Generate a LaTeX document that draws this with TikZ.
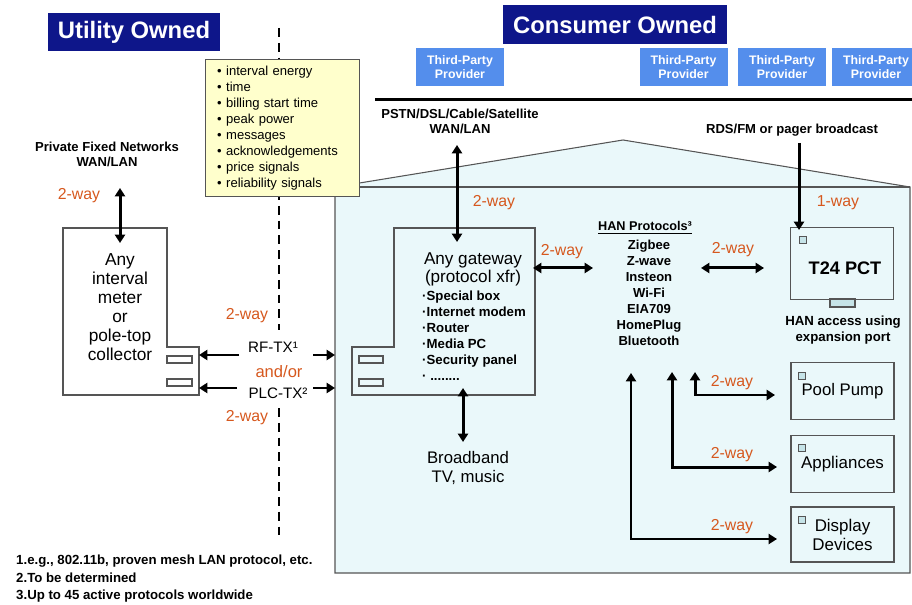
\documentclass[tikz,border=0pt]{standalone}
\usepackage{fontspec}
\setmainfont{Liberation Sans}
\usetikzlibrary{arrows.meta}

\definecolor{ownerblue}{RGB}{14,22,138}
\definecolor{partyblue}{RGB}{84,142,236}
\definecolor{wayorange}{RGB}{214,88,30}
\definecolor{notefill}{RGB}{255,255,204}
\definecolor{housefill}{RGB}{234,248,250}
\definecolor{portfill}{RGB}{198,228,232}
\definecolor{edgegray}{RGB}{85,85,85}

\begin{document}
\begin{tikzpicture}[x=0.567pt,y=-0.567pt,
    lbl/.style={font=\fontsize{7.4}{8.6}\selectfont\bfseries,align=center},
    way/.style={text=wayorange,font=\fontsize{9}{11}\selectfont},
    txt/.style={font=\fontsize{9.7}{10.8}\selectfont,align=center},
    unit/.style={draw=edgegray,line width=.6pt,inner sep=0pt,minimum width=58.4pt},
    party/.style={fill=partyblue,text=white,font=\fontsize{7}{7.9}\selectfont\bfseries,
      align=center,inner sep=0pt,minimum width=49.9pt,minimum height=21.5pt},
    owner/.style={fill=ownerblue,text=white,font=\fontsize{13.5}{16}\selectfont\bfseries,
      inner sep=0pt,minimum height=21.8pt},
    twoway/.style={{Triangle[length=4.8pt,width=5.8pt]}-{Triangle[length=4.8pt,width=5.8pt]},line width=1.7pt},
    oneway/.style={-{Triangle[length=4.8pt,width=5.8pt]},line width=1.7pt}]
  \useasboundingbox (0,0) rectangle (912,605);
  \clip (0,0) rectangle (912,605);
  %
  % the house
  \draw[edgegray,fill=housefill,line width=.6pt] (335,187) -- (623,140) -- (910,187)
    -- (910,573) -- (335,573) -- cycle;
  \draw[edgegray,line width=.6pt] (335,187) -- (910,187);
  %
  % ownership split
  \draw[line width=1.4pt,dash pattern=on 5pt off 3.4pt] (279,28) -- (279,330);
  \draw[line width=1.4pt,dash pattern=on 5pt off 3.4pt] (279,408) -- (279,540);
  \draw[line width=1.7pt] (375,100) -- (912,100);
  %
  \node[owner,minimum width=97.5pt] (utility) at (134,32) {Utility Owned};
  \node[owner,minimum width=127pt] (consumer) at (615,24.5) {Consumer Owned};
  \foreach \x [count=\i] in {460,683.5,782,876}
    \node[party] (party\i) at (\x,67) {Third-Party\\Provider};
  %
  \node[draw=edgegray,fill=notefill,line width=.6pt,font=\fontsize{7.4}{9.07}\selectfont,
    align=left,text width=74pt,inner xsep=6.8pt,minimum height=78.2pt] (note) at (282.5,128)
    {• interval energy\\• time\\• billing start time\\• peak power\\• messages\\
     • acknowledgements\\• price signals\\• reliability signals};
  %
  % meter and gateway
  \draw[edgegray,fill=white,line width=.6pt] (63,228) -- (167,228) -- (167,347) -- (199,347)
    -- (199,395) -- (63,395) -- cycle;
  \draw[edgegray,line width=.6pt] (394,228) -- (535,228) -- (535,395) -- (352,395)
    -- (352,347) -- (394,347) -- cycle;
  \foreach \y in {356,379}{
    \draw[edgegray,line width=.6pt] (167,\y) rectangle +(25,7);
    \draw[edgegray,line width=.6pt] (359,\y) rectangle +(24,7);
  }
  \node[txt,font=\fontsize{9.8}{10.7}\selectfont] (meter) at (120,307)
    {Any\\interval\\meter\\or\\pole-top\\collector};
  \node[txt,font=\fontsize{9.7}{10.2}\selectfont] (gateway) at (473,269) {Any gateway\\(protocol xfr)};
  \node[font=\fontsize{7.5}{9.07}\selectfont\bfseries,align=left,anchor=west] (gwlist) at (416,336)
    {·Special box\\·Internet modem\\·Router\\·Media PC\\·Security panel\\· ........};
  %
  % HAN side
  \node[font=\fontsize{7.2}{8}\selectfont\bfseries] (hanhead) at (645,228) {\underline{HAN Protocols³}};
  \node[font=\fontsize{7.4}{9.07}\selectfont\bfseries,align=center] (han) at (649,293)
    {Zigbee\\Z-wave\\Insteon\\Wi-Fi\\EIA709\\HomePlug\\Bluetooth};
  \node[unit,minimum height=40.3pt] (t24) at (842,263.5) {};
  \node[font=\fontsize{10.3}{12}\selectfont\bfseries] (t24lbl) at (845,268) {T24 PCT};
  \draw[edgegray,fill=portfill,line width=.6pt] (830,299) rectangle (855,307);
  \node[font=\fontsize{7.5}{9.07}\selectfont\bfseries,align=center] (hanport) at (843,330)
    {HAN access using\\expansion port};
  \node[unit,minimum height=31.8pt,font=\fontsize{9.5}{10.8}\selectfont] (pool) at (842.5,391) {Pool Pump};
  \node[unit,minimum height=31.8pt,font=\fontsize{9.6}{10.8}\selectfont] (appl) at (842.5,464) {Appliances};
  \node[unit,minimum height=31.2pt,font=\fontsize{9.6}{10.8}\selectfont,align=center] (disp) at (842.5,534.5)
    {Display\\Devices};
  \foreach \p in {(802.5,240),(802,375.5),(802,447.5),(802,519.5)}
    \draw[edgegray,fill=portfill,line width=.5pt] \p ++(-3.5,-3.5) rectangle ++(7,7);
  %
  % labels
  \node[lbl] (pfnlbl) at (107,154) {Private Fixed Networks\\WAN/LAN};
  \node[lbl] (pstnlbl) at (460,121) {PSTN/DSL/Cable/Satellite\\WAN/LAN};
  \node[lbl] (rdslbl) at (792,130) {RDS/FM or pager broadcast};
  \node[font=\fontsize{8.6}{10}\selectfont] (rftx) at (273,347) {RF-TX¹};
  \node[font=\fontsize{8.6}{10}\selectfont] (plctx) at (278,393) {PLC-TX²};
  \node[way,font=\fontsize{9.4}{11}\selectfont] (andor) at (279,372) {and/or};
  \node[txt,font=\fontsize{9.5}{10.8}\selectfont] (bbtext) at (468,468) {Broadband\\TV, music};
  \foreach \x/\y [count=\i] in {79/196,247/316,247/418,494/203,562/252,733/250,732/383,732/455,732/527}
    \node[way] (way\i) at (\x,\y) {2-way};
  \node[way] (way1w) at (838,203) {1-way};
  \node[font=\fontsize{7.5}{9.9}\selectfont\bfseries,align=left,anchor=west] (notes) at (10,579)
    {1.e.g., 802.11b, proven mesh LAN protocol, etc.\\2.To be determined\\3.Up to 45 active protocols worldwide};
  %
  % links
  \coordinate (pfn) at (120,188);
  \coordinate (meterin) at (120,243);
  \coordinate (rfout) at (239,355);
  \coordinate (rfport) at (199,355);
  \coordinate (plcout) at (237,388);
  \coordinate (plcport) at (199,388);
  \coordinate (rfin) at (313,355);
  \coordinate (rfwall) at (335,355);
  \coordinate (plcin) at (313,388);
  \coordinate (plcwall) at (335,388);
  \coordinate (pstn) at (457,145);
  \coordinate (gwtop) at (457,242);
  \coordinate (gwright) at (533,268);
  \coordinate (hanleft) at (593,268);
  \coordinate (hanright) at (701,268);
  \coordinate (t24left) at (764,268);
  \coordinate (rds) at (799,143);
  \coordinate (t24top) at (799,230);
  \coordinate (gwbottom) at (463,388);
  \coordinate (bband) at (463,442);
  \coordinate (poolup) at (695,372);
  \coordinate (poolin) at (775,395);
  \coordinate (applup) at (672,372);
  \coordinate (applin) at (777,467);
  \coordinate (dispup) at (631,373);
  \coordinate (dispin) at (777,539);
  %
  \draw[twoway] (pfn) -- (meterin);
  \draw[oneway] (rfout) -- (rfport);
  \draw[oneway] (plcout) -- (plcport);
  \draw[oneway] (rfin) -- (rfwall);
  \draw[oneway] (plcin) -- (plcwall);
  \draw[twoway] (pstn) -- (gwtop);
  \draw[twoway] (gwright) -- (hanleft);
  \draw[twoway] (hanright) -- (t24left);
  \draw[oneway] (rds) -- (t24top);
  \draw[twoway] (gwbottom) -- (bband);
  \draw[twoway] (poolup) |- (poolin);
  \draw[twoway] (applup) |- (applin);
  \draw[twoway,line width=1.1pt] (dispup) |- (dispin);
\end{tikzpicture}
\end{document}
